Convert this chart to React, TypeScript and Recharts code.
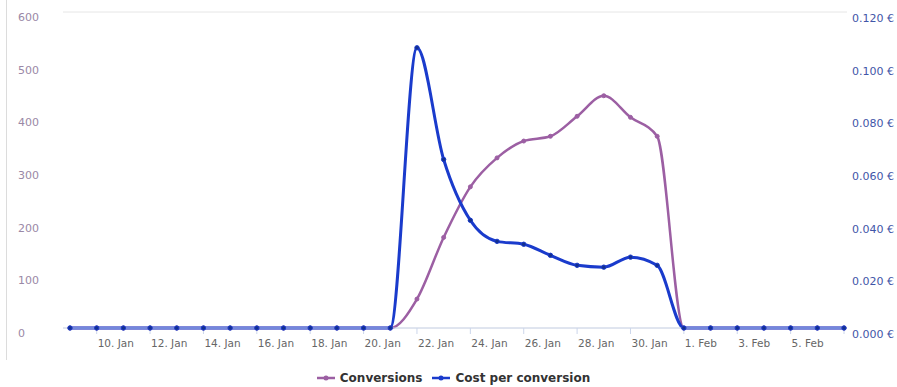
import React from "react"
import {
  CartesianGrid,
  Legend,
  Line,
  LineChart,
  XAxis,
  YAxis,
} from "recharts"

// one point per day, 9 Jan .. 7 Feb
const days = [
  "9. Jan", "10. Jan", "11. Jan", "12. Jan", "13. Jan", "14. Jan", "15. Jan", "16. Jan",
  "17. Jan", "18. Jan", "19. Jan", "20. Jan", "21. Jan", "22. Jan", "23. Jan", "24. Jan",
  "25. Jan", "26. Jan", "27. Jan", "28. Jan", "29. Jan", "30. Jan", "31. Jan",
  "1. Feb", "2. Feb", "3. Feb", "4. Feb", "5. Feb", "6. Feb", "7. Feb",
]

const conversions = [
  0, 0, 0, 0, 0, 0, 0, 0, 0, 0, 0, 0, 0, 55, 172, 268,
  323, 355, 364, 402, 441, 400, 364,
  0, 0, 0, 0, 0, 0, 0,
]

const costPerConversion = [
  0, 0, 0, 0, 0, 0, 0, 0, 0, 0, 0, 0, 0, 0.1064, 0.064, 0.0409,
  0.0329, 0.0318, 0.0276, 0.0238, 0.0231, 0.0269, 0.0238,
  0, 0, 0, 0, 0, 0, 0,
]

const xTicks = [
  "10. Jan", "12. Jan", "14. Jan", "16. Jan", "18. Jan", "20. Jan", "22. Jan", "24. Jan",
  "26. Jan", "28. Jan", "30. Jan", "1. Feb", "3. Feb", "5. Feb", "7. Feb",
]
const leftTicks = [0, 100, 200, 300, 400, 500, 600]
const rightTicks = [0, 0.02, 0.04, 0.06, 0.08, 0.1, 0.12]

const PURPLE = "#9c5fa3"
const BLUE = "#1a3bcc"
const FONT = "'DejaVu Sans', Verdana, sans-serif"

const data = days.map((d, i) => ({
  day: d,
  conversions: conversions[i],
  cost: costPerConversion[i],
}))

const XTick = (props: any) => {
  const { x, y, payload } = props
  if (payload.value === xTicks[xTicks.length - 1]) return null
  return (
    <text x={x + 1} y={y + 11} textAnchor="start" fontSize={10.5} fill="#666" fontFamily={FONT}>
      {payload.value}
    </text>
  )
}

const LeftTick = (props: any) => {
  const { y, payload } = props
  return (
    <text x={18} y={y + 9} textAnchor="start" fontSize={11} fill="#9a88a6" fontFamily={FONT}>
      {payload.value}
    </text>
  )
}

const RightTick = (props: any) => {
  const { y, payload } = props
  return (
    <text x={852} y={y + 10} textAnchor="start" fontSize={11} fill="#3f56a8" fontFamily={FONT}>
      {payload.value.toFixed(3) + " €"}
    </text>
  )
}

const LegendContent = () => {
  const items = [
    { name: "Conversions", color: PURPLE },
    { name: "Cost per conversion", color: BLUE },
  ]
  return (
    <div style={{ display: "flex", justifyContent: "center", gap: 10, paddingLeft: 10 }}>
      {items.map((it) => (
        <div key={it.name} style={{ display: "flex", alignItems: "center" }}>
          <svg width={18} height={10} style={{ marginRight: 5 }}>
            <line x1={0} y1={5} x2={18} y2={5} stroke={it.color} strokeWidth={2.5} />
            <circle cx={9} cy={5} r={2.5} fill={it.color} />
          </svg>
          <span style={{ fontFamily: FONT, fontSize: 12, fontWeight: "bold", color: "#333" }}>
            {it.name}
          </span>
        </div>
      ))}
    </div>
  )
}

export default function App() {
  return (
    <div style={{ position: "absolute", left: 0, top: 0, width: 897, height: 387, background: "#fff" }}>
      <div style={{ position: "absolute", left: 6, top: 0, width: 1, height: 360, background: "#dcdcdc" }} />
      <LineChart
        width={897}
        height={387}
        data={data}
        margin={{ top: 12, right: 0, left: 0, bottom: 15 }}
      >
        <CartesianGrid vertical={false} stroke="#e6e6e6" />
        <XAxis
          dataKey="day"
          ticks={xTicks}
          interval={0}
          tick={<XTick />}
          tickLine={{ stroke: "#ccd6eb" }}
          tickSize={6}
          axisLine={{ stroke: "#ccd6eb" }}
          padding={{ left: 7, right: 3 }}
          height={30}
        />
        <YAxis
          yAxisId="left"
          domain={[0, 600]}
          ticks={leftTicks}
          tick={<LeftTick />}
          axisLine={false}
          tickLine={false}
          width={63}
        />
        <YAxis
          yAxisId="right"
          orientation="right"
          domain={[0, 0.12]}
          ticks={rightTicks}
          tick={<RightTick />}
          axisLine={false}
          tickLine={false}
          width={50}
        />
        <Legend
          content={<LegendContent />}
          wrapperStyle={{ position: "absolute", top: 371, left: 0, width: 897 }}
        />
        <Line
          yAxisId="left"
          type="monotone"
          dataKey="conversions"
          name="Conversions"
          stroke={PURPLE}
          strokeWidth={2.5}
          dot={{ r: 2, fill: PURPLE, stroke: PURPLE, strokeWidth: 1 }}
          isAnimationActive={false}
        />
        <Line
          yAxisId="right"
          type="monotone"
          dataKey="cost"
          name="Cost per conversion"
          stroke={BLUE}
          strokeWidth={3}
          dot={{ r: 2.2, fill: "#13308f", stroke: BLUE, strokeWidth: 1 }}
          isAnimationActive={false}
        />
      </LineChart>
    </div>
  )
}
